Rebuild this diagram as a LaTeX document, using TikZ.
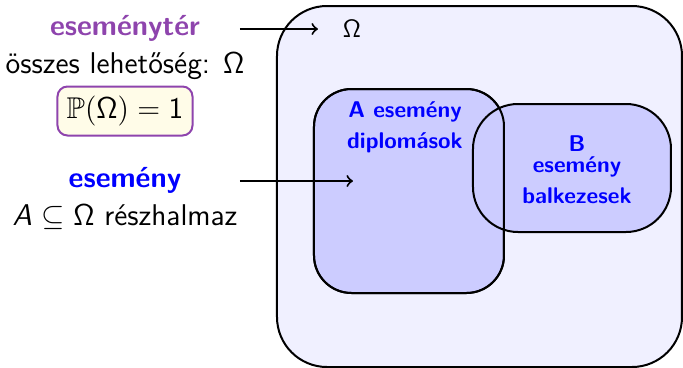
\documentclass[tikz,border=0pt]{standalone}
\usepackage{amsmath}
\usepackage{amssymb}
\usepackage{tikz}
\definecolor{lila}{RGB}{142,68,173}
\definecolor{halvany}{RGB}{255,252,232}
\definecolor{terkek}{RGB}{240,240,255}
\definecolor{halmazkek}{RGB}{204,204,255}

\begin{document}
\sffamily
\begin{tikzpicture}[x=0.4pt,y=-0.4pt,
        halmaz/.style={draw=black, thick, inner sep=0pt},
        Ahalmaz/.style={halmaz, rounded corners=15pt, minimum width=76pt, minimum height=81.6pt},
        cimke/.style={text=blue, font=\fontsize{9.1pt}{12.4pt}\selectfont\bfseries, align=center, inner sep=0pt},
        fejcim/.style={font=\fontsize{11.6pt}{14pt}\selectfont\bfseries}]
        \useasboundingbox (0,0) rectangle (683,368);
        \node[halmaz, fill=terkek, rounded corners=20pt, minimum width=162pt, minimum height=144.4pt] (ter) at (479.5,186.5) {};
        \node[Ahalmaz, fill=halmazkek] (A) at (409,191) {};
        \node[halmaz, fill=halmazkek, rounded corners=18pt, minimum width=79.2pt, minimum height=51.2pt] (B) at (572,168) {};
        \node[Ahalmaz] (Avonal) at (A) {};
        \node[cimke] (Acimke) at (405,127) {A esemény\\diplomások};
        \node[cimke] (Bcimke) at (577,170) {B\\[-4pt]esemény\\balkezesek};
        \node[fejcim, text=lila] (tercimke) at (125,28) {eseménytér};
        \node[font=\large] (osszes) at (125,66) {összes lehetőség: $\mathsf{\Omega}$};
        \node[draw=lila, thick, fill=halvany, rounded corners=4pt, minimum width=54pt, minimum height=19.6pt, font=\large] (valseg) at (125,111) {$\mathbb{P}(\mathsf{\Omega})=\mathsf{1}$};
        \node[fejcim, text=blue] (esemeny) at (125,180) {esemény};
        \node[font=\large] (resz) at (125,217) {{\slshape A} $\subseteq\mathsf{\Omega}$ részhalmaz};
        \node (omega) at (352,29) {$\mathsf{\Omega}$};
        \coordinate (ny1a) at (240,29);
        \coordinate (ny1b) at (318,29);
        \coordinate (ny2a) at (240,181);
        \coordinate (ny2b) at (353,181);
        \draw [->, thick] (ny1a) -- (ny1b);
        \draw [->, thick] (ny2a) -- (ny2b);
        %\draw[dashed] (A.center) -- (B.center);
\end{tikzpicture}
\end{document}
